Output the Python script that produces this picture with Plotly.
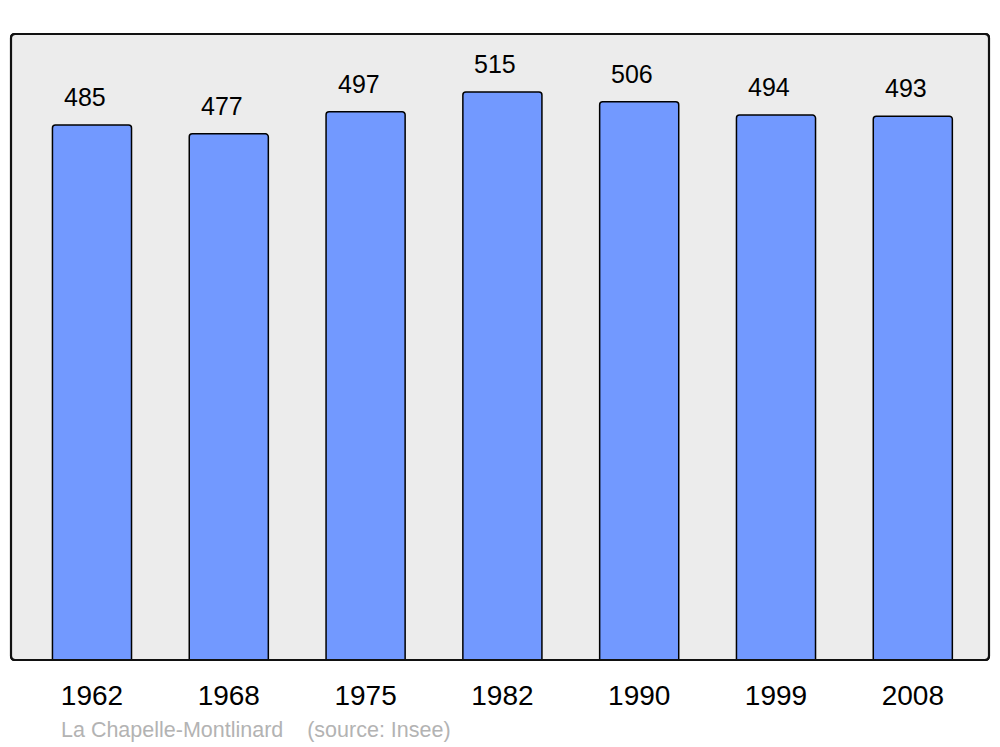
import plotly.graph_objects as go

years = ["1962", "1968", "1975", "1982", "1990", "1999", "2008"]
population = [485, 477, 497, 515, 506, 494, 493]
place = "La Chapelle-Montlinard"
source = "(source: Insee)"

W, H = 1000, 747
ml, mr, mt, mb = 11, 11, 34, 87
pw, ph = W - ml - mr, H - mt - mb

fig = go.Figure()
fig.add_trace(go.Bar(
    x=years, y=population, width=0.578,
    marker=dict(color="#7299ff", line=dict(color="black", width=1.5)),
    hoverinfo="x+y",
))

for i, v in enumerate(population):
    fig.add_annotation(x=i, y=v, text=str(v), showarrow=False,
                       yanchor="middle", yshift=28, xshift=-7,
                       font=dict(family="Liberation Sans, Arial, sans-serif", size=25, color="black"))

# rounded frame of plot area
rx, ry = 4 / pw, 4 / ph
path = (f"M {rx},0 L {1-rx},0 Q 1,0 1,{ry} L 1,{1-ry} Q 1,1 {1-rx},1 "
        f"L {rx},1 Q 0,1 0,{1-ry} L 0,{ry} Q 0,0 {rx},0 Z")
fig.add_shape(type="path", path=path, xref="paper", yref="paper",
              fillcolor="#ececec", line=dict(color="black", width=2), layer="below")
fig.add_shape(type="path", path=path, xref="paper", yref="paper",
              fillcolor="rgba(0,0,0,0)", line=dict(color="#111111", width=2.2), layer="above")

fig.add_annotation(x=(59 - ml) / pw, y=-(730 - (H - mb)) / ph, xref="paper", yref="paper",
                   text=place + "&nbsp;&nbsp;&nbsp;&nbsp;" + source, showarrow=False,
                   xanchor="left", yanchor="middle",
                   font=dict(family="Liberation Sans, Arial, sans-serif", size=21.5, color="#b3b3b3"))

fig.update_layout(
    width=W, height=H,
    margin=dict(l=ml, r=mr, t=mt, b=mb, pad=0),
    paper_bgcolor="white", plot_bgcolor="rgba(0,0,0,0)",
    showlegend=False,
    barcornerradius=3,
    font=dict(family="Liberation Sans, Arial, sans-serif", color="black"),
    xaxis=dict(type="category", range=[-0.592, 6.557], showgrid=False, zeroline=False,
               showline=False, ticks="", tickfont=dict(size=28, color="black"),
               ticklabelstandoff=16, fixedrange=True),
    yaxis=dict(range=[0, 567.5], showgrid=False, zeroline=False, showline=False,
               showticklabels=False, ticks="", fixedrange=True),
)

fig.write_html("out.html", config={"displayModeBar": False},
               post_script="document.body.style.margin='0';")
